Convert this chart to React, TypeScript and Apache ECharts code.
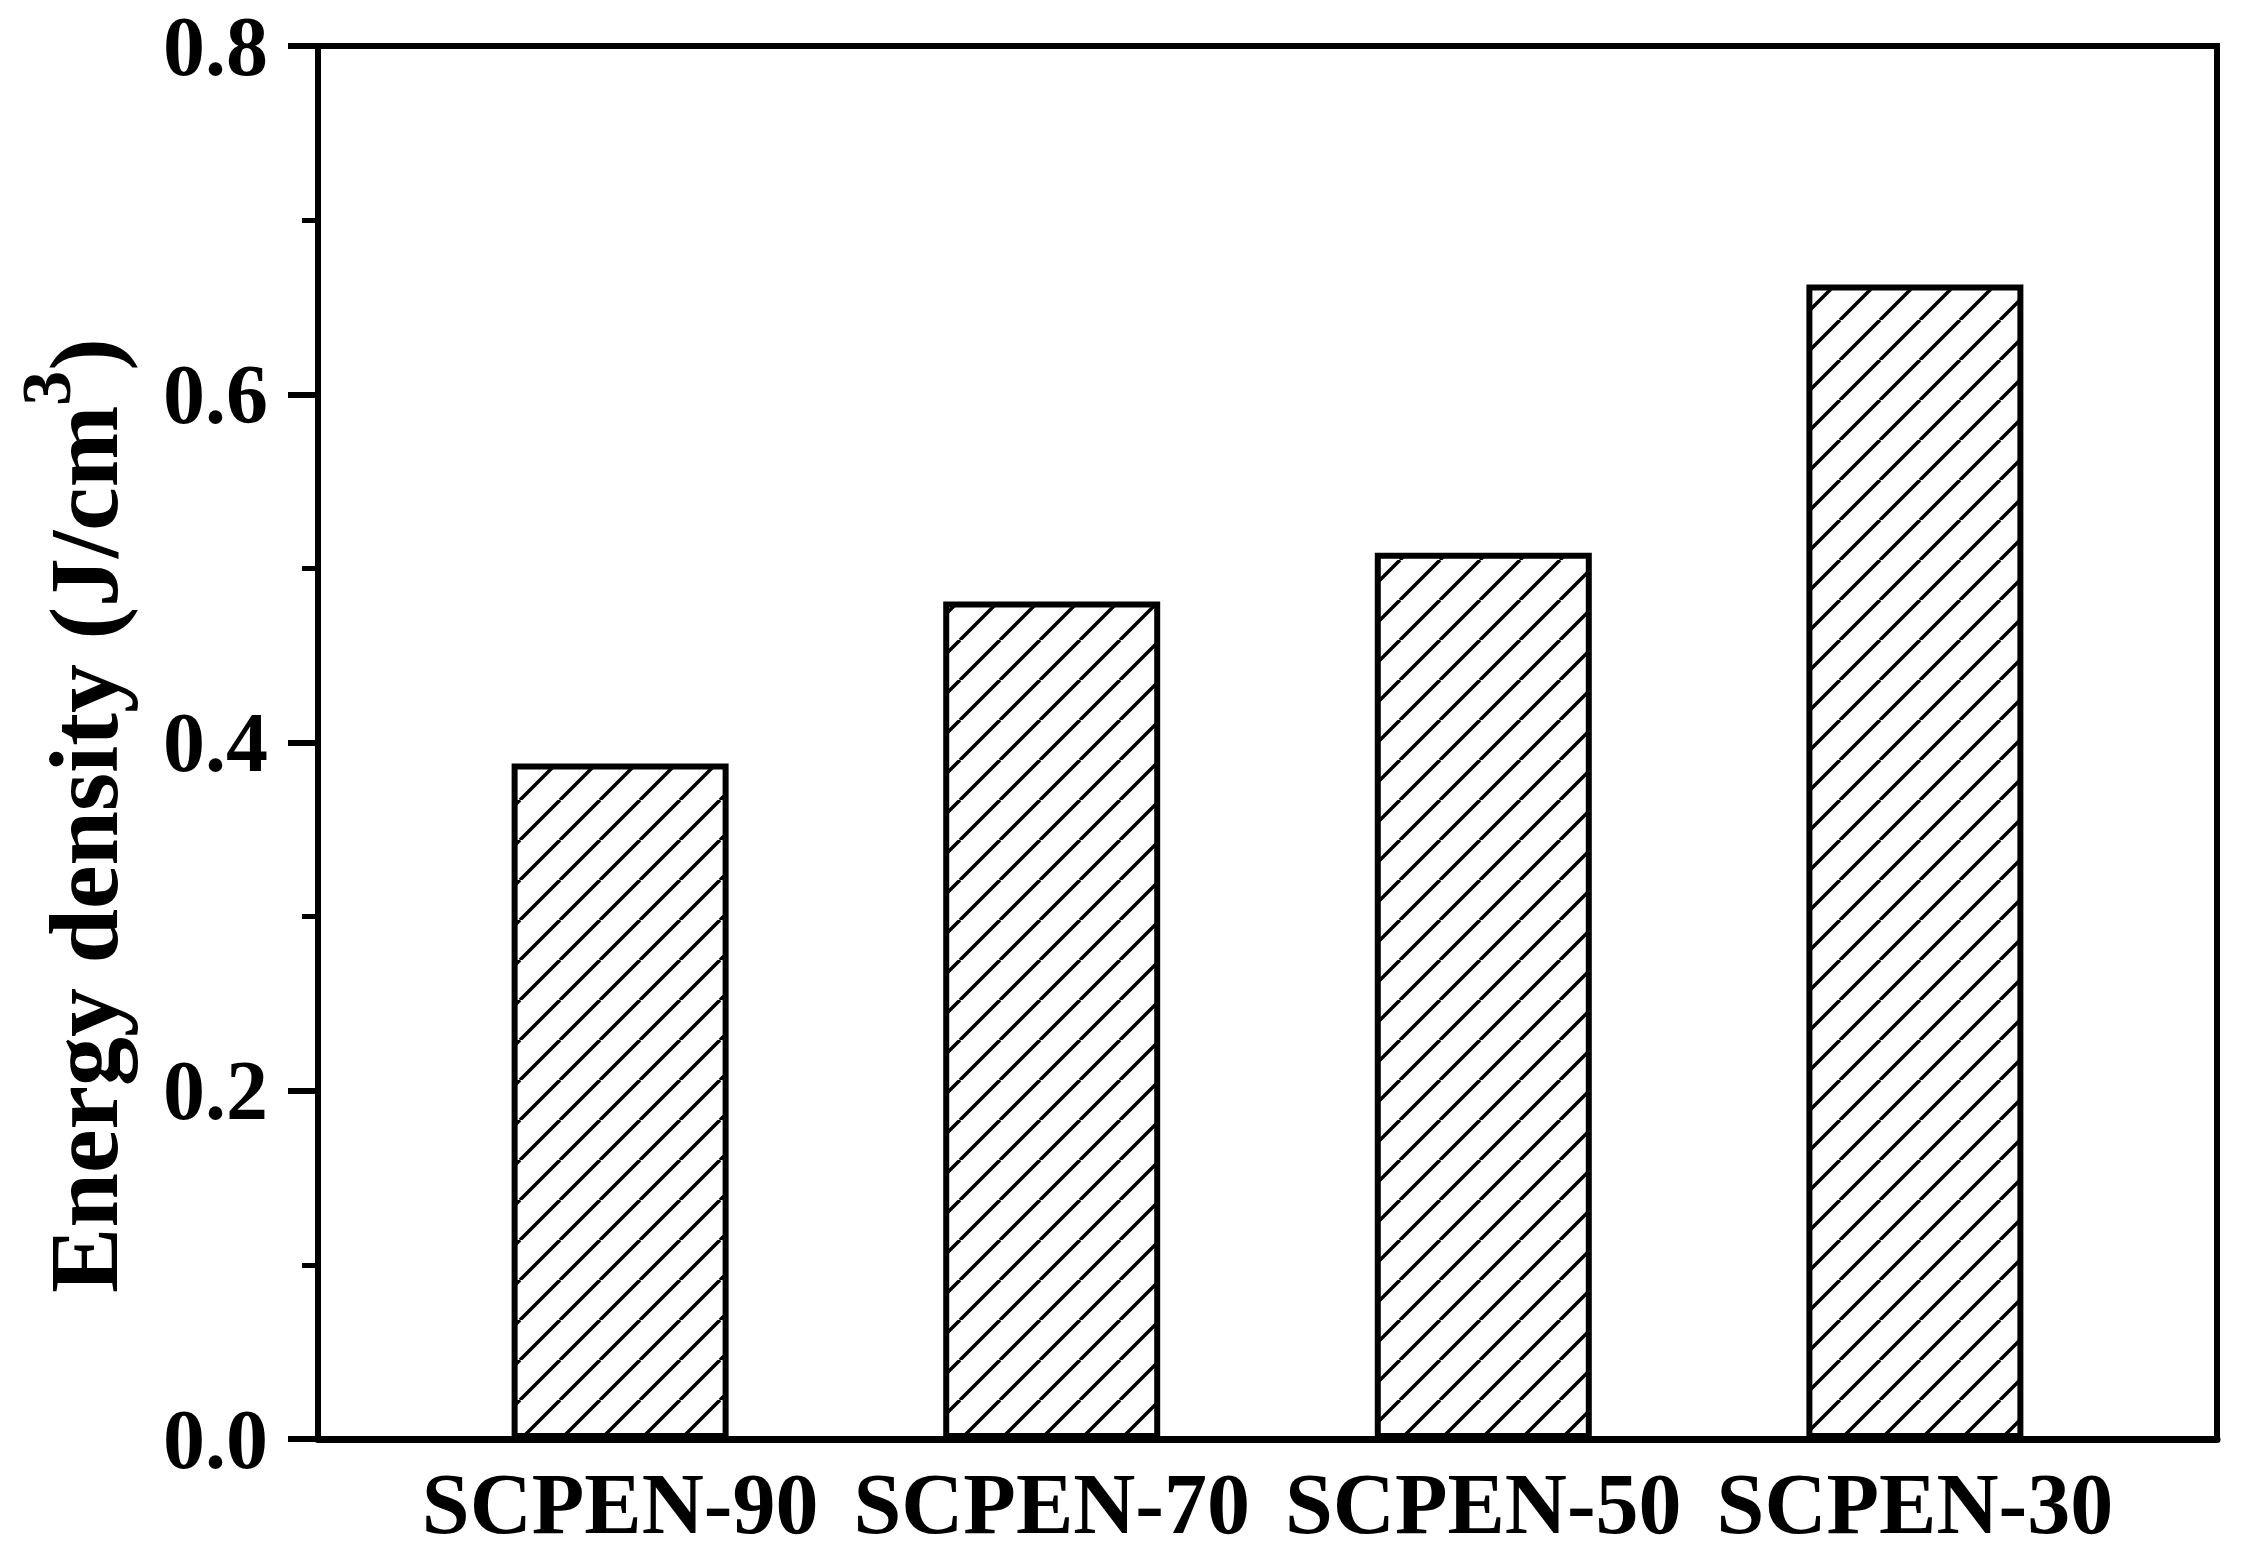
import { useEffect, useRef } from "react";
import * as echarts from "echarts";

const categories = ["SCPEN-90", "SCPEN-70", "SCPEN-50", "SCPEN-30"];
const categoryPositions = [1, 2, 3, 4];
const energyDensity = [0.388, 0.481, 0.509, 0.663];
const yMin = 0;
const yMax = 0.8;
const yInterval = 0.2;

const FONT = "'Liberation Serif', 'Times New Roman', serif";

function makeHatch(): HTMLCanvasElement {
  const s = 40;
  const c = document.createElement("canvas");
  c.width = s;
  c.height = s;
  const ctx = c.getContext("2d")!;
  ctx.fillStyle = "#ffffff";
  ctx.fillRect(0, 0, s, s);
  ctx.strokeStyle = "#000000";
  ctx.lineWidth = 3.5;
  for (let k = -1; k <= 1; k++) {
    ctx.beginPath();
    ctx.moveTo(k * s, s);
    ctx.lineTo(k * s + s, 0);
    ctx.stroke();
  }
  return c;
}

export default function App() {
  const ref = useRef<HTMLDivElement>(null);
  useEffect(() => {
    if (!ref.current) return;
    const chart = echarts.init(ref.current, null, { renderer: "svg" });
    const hatch = makeHatch();
    const barData = categoryPositions.map((p, i) => [p, energyDensity[i]]);
    chart.setOption({
      animation: false,
      backgroundColor: "#ffffff",
      grid: {
        left: 318,
        right: 26,
        top: 46,
        bottom: 119,
        show: true,
        borderColor: "#000",
        borderWidth: 6,
        backgroundColor: "transparent",
      },
      xAxis: {
        type: "value",
        min: 0.3,
        max: 4.7,
        axisLine: { show: true, onZero: false, lineStyle: { color: "#000", width: 7 } },
        axisTick: { show: false },
        splitLine: { show: false },
        axisLabel: {
          customValues: categoryPositions,
          formatter: (v: number) => categories[Math.round(v) - 1] ?? "",
          color: "#000",
          fontFamily: FONT,
          fontWeight: "bold",
          fontSize: 86,
          margin: 22,
        },
      },
      yAxis: {
        type: "value",
        min: yMin,
        max: yMax,
        interval: yInterval,
        axisLine: { show: true, lineStyle: { color: "#000", width: 6 } },
        axisTick: { show: true, inside: false, length: 30, lineStyle: { color: "#000", width: 6 } },
        minorTick: { show: true, splitNumber: 2, length: 16, lineStyle: { color: "#000", width: 5 } },
        splitLine: { show: false },
        minorSplitLine: { show: false },
        axisLabel: {
          formatter: (v: number) => v.toFixed(1),
          color: "#000",
          fontFamily: FONT,
          fontWeight: "bold",
          fontSize: 84,
          margin: 50,
        },
        name: "{main|Energy density (J/cm}{sup|3}{main|)}",
        nameLocation: "middle",
        nameRotate: 90,
        nameGap: 185,
        nameTextStyle: {
          color: "#000",
          fontFamily: FONT,
          fontWeight: "bold",
          fontSize: 98,
          padding: [0, 146, 0, 0],
          rich: {
            main: {
              fontFamily: FONT,
              fontWeight: "bold",
              fontSize: 98,
              lineHeight: 98,
              verticalAlign: "bottom",
              color: "#000",
            },
            sup: {
              fontFamily: FONT,
              fontWeight: "bold",
              fontSize: 70,
              lineHeight: 70,
              padding: [0, 0, 52, 0],
              verticalAlign: "bottom",
              color: "#000",
            },
          },
        },
      },
      series: [
        {
          type: "bar",
          data: barData,
          barWidth: 217,
          itemStyle: {
            color: { image: hatch, repeat: "repeat", imageWidth: 40, imageHeight: 40 },
            borderColor: "#000",
            borderWidth: 6,
          },
          emphasis: { disabled: true },
        },
      ],
    });
    return () => chart.dispose();
  }, []);
  return (
    <div
      ref={ref}
      style={{ position: "fixed", left: 0, top: 0, width: 2243, height: 1558, background: "#fff" }}
    />
  );
}
